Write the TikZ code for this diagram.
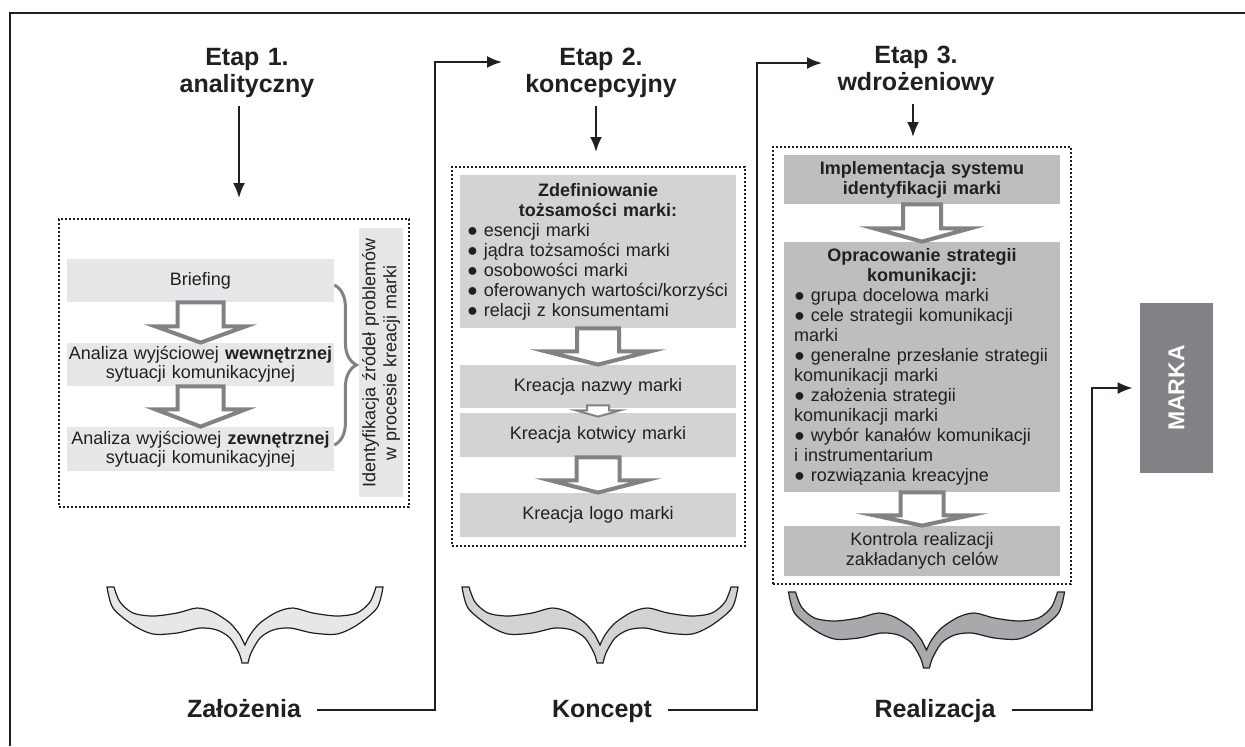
\documentclass[tikz,border=0pt]{standalone}
\usepackage{fontspec}
\setmainfont{Liberation Sans}
\usetikzlibrary{arrows.meta,calc,decorations.pathreplacing}

\definecolor{ink}{HTML}{231F20}
\definecolor{fillA}{HTML}{E6E7E8}
\definecolor{fillB}{HTML}{D1D3D4}
\definecolor{fillC}{HTML}{BCBEC0}
\definecolor{braceC}{HTML}{A7A9AC}
\definecolor{arrgray}{HTML}{808285}

\hyphenpenalty=10000
\exhyphenpenalty=10000

\tikzset{
  stagetitle/.style={font=\fontsize{12.5}{13.5}\selectfont\bfseries, align=center, text width=100pt, text=ink, inner sep=4pt},
  steplabel/.style={font=\fontsize{12.5}{15}\selectfont\bfseries, text=ink, anchor=base, inner sep=0pt},
  dashframe/.style={draw=ink, line width=0.6pt, dash pattern=on 1.2pt off 0.8pt, inner sep=0pt},
  cell/.style={inner sep=0pt, align=center, text=ink},
  boxA/.style={cell, fill=fillA, font=\fontsize{9}{9.3}\selectfont},
  boxB/.style={cell, fill=fillB, font=\fontsize{9}{10}\selectfont},
  boxC/.style={cell, fill=fillC, font=\fontsize{9}{10}\selectfont},
  hollow/.style={draw=arrgray, line width=2pt, fill=white},
  stagearr/.style={draw=ink, line width=1pt, -{Latex[length=7.5pt,width=6pt]}},
  loopline/.style={draw=ink, line width=1pt, shorten <=8pt, -{Latex[length=7.5pt,width=6pt]}},
  pics/wingbrace/.style={code={
    \draw[ink, line width=0.6pt, fill=#1]
      plot[smooth] coordinates {(-138,2) (-132,23) (-112,40) (-92,49) (-68,48) (-45,43) (-28,45) (-15,53) (-6,68) (-3,78)}
      -- plot[smooth] coordinates {(3,78) (6,68) (15,53) (28,45) (45,43) (68,48) (92,49) (112,40) (132,23) (138,2)}
      -- plot[smooth] coordinates {(131,2) (125,17) (112,28) (92,31) (68,28) (48,23) (32,27) (15,38) (5,50) (0,60)}
      -- plot[smooth] coordinates {(-5,50) (-15,38) (-32,27) (-48,23) (-68,28) (-92,31) (-112,28) (-125,17) (-131,2)}
      -- cycle;
  }}
}

% hollow block arrow: [style]{start}{tip}{shaft half}{head half}{shaft length}
\newcommand\hollowarrow[6][]{%
  \path #2 coordinate (ha-s) #3 coordinate (ha-t);
  \draw[hollow,#1] ($(ha-s)+(-#4,0)$) -- ++(0,#6) -- ++({#4-#5},0) -- (ha-s |- ha-t)
    -- ($(ha-s)+(#5,#6)$) -- ++({#4-#5},0) -- ($(ha-s)+(#4,0)$) -- cycle;}

\begin{document}
\begin{tikzpicture}[x=0.5pt, y=-0.5pt]
  \useasboundingbox (0,0) rectangle (1245,746);
  \draw[ink, line width=1pt] (10,746) |- (1245,13);

  % Etap 1
  \node[stagetitle] (t1) at (247,73) {Etap 1.\\analityczny};
  \node[dashframe, minimum width=175pt, minimum height=144pt] (f1) at (234,363) {};
  \node[boxA, text width=133.5pt, minimum height=21.5pt] (brief) at (200.5,280.5) {Briefing};
  \node[boxA, text width=133.5pt, minimum height=21.5pt] (wew) at (200.5,364.5) {Analiza wyjściowej \textbf{wewnętrznej}\\sytuacji komunikacyjnej};
  \node[boxA, text width=133.5pt, minimum height=22pt] (zew) at (200.5,449) {Analiza wyjściowej \textbf{zewnętrznej}\\sytuacji komunikacyjnej};
  \node[boxA, rotate=90, text width=134.5pt, minimum height=22pt, font=\fontsize{9}{10.5}\selectfont] (ident) at (381,362.5) {Identyfikacja źródeł problemów\\w procesie kreacji marki};
  \hollowarrow{(brief.south)}{(wew.north)}{23}{45}{24}
  \hollowarrow{(wew.south)}{(zew.north)}{23}{45}{23}
  \draw[arrgray, line width=1.5pt, decorate, decoration={brace, amplitude=11pt}]
    ([yshift=-2.25pt]brief.east) -- ([yshift=2pt]zew.east);
  \coordinate (a1) at (239,198);
  \draw[stagearr] (t1.south -| a1) -- (a1);

  % Etap 2
  \node[stagetitle] (t2) at (601,73) {Etap 2.\\koncepcyjny};
  \node[dashframe, minimum width=146.5pt, minimum height=189.5pt] (f2) at (598.5,356.5) {};
  \node[boxB, text width=131pt, inner xsep=3.5pt, minimum height=76.5pt, align=left] (zdef) at (598,251.5)
    {{\centering\bfseries Zdefiniowanie\\tożsamości marki:\par}
     ●~esencji marki\\
     ●~jądra tożsamości marki\\
     ●~osobowości marki\\
     ●~oferowanych~wartości/korzyści\\
     ●~relacji z konsumentami};
  \node[boxB, text width=138pt, minimum height=21.5pt] (nazwa) at (598,386.5) {Kreacja nazwy marki};
  \node[boxB, text width=138pt, minimum height=22pt] (kotw) at (598,435) {Kreacja kotwicy marki};
  \node[boxB, text width=138pt, minimum height=22pt] (logo) at (598,515) {Kreacja logo marki};
  \hollowarrow{(zdef.south)}{(nazwa.north)}{21}{52}{23}
  \hollowarrow[line width=1pt]{([yshift=1.5pt]nazwa.south)}{([yshift=-2pt]kotw.north)}{11}{22}{5}
  \hollowarrow{(kotw.south)}{(logo.north)}{21.5}{47.5}{23}
  \coordinate (a2) at (596,152);
  \draw[stagearr] (t2.south -| a2) -- (a2);

  % Etap 3
  \node[stagetitle] (t3) at (916,71) {Etap 3.\\wdrożeniowy};
  \node[dashframe, minimum width=149pt, minimum height=218.5pt] (f3) at (922,365.5) {};
  \node[boxC, text width=138pt, minimum height=24.5pt, font=\fontsize{9}{10}\selectfont\bfseries] (impl) at (922,179.5) {Implementacja systemu\\identyfikacji marki};
  \node[boxC, text width=128pt, inner xsep=5pt, minimum height=125pt, align=left] (oprac) at (922,367)
    {{\centering\bfseries Opracowanie strategii\\komunikacji:\par}
     ●~grupa docelowa marki\\
     ●~cele strategii komunikacji\\
     marki\\
     ●~generalne przesłanie~strategii\\
     komunikacji marki\\
     ●~założenia strategii\\
     komunikacji marki\\
     ●~wybór kanałów komunikacji\\
     i instrumentarium\\
     ●~rozwiązania kreacyjne};
  \node[boxC, text width=138pt, minimum height=25pt] (kontr) at (922,551) {Kontrola realizacji\\zakładanych celów};
  \hollowarrow{(impl.south)}{(oprac.north)}{19}{48}{24}
  \hollowarrow{(oprac.south)}{(kontr.north)}{21.5}{47.5}{23}
  \coordinate (a3) at (913,137);
  \draw[stagearr] (t3.south -| a3) -- (a3);

  % marka
  \node[fill=arrgray, text=white, font=\fontsize{11.5}{12}\selectfont\bfseries, rotate=90,
        minimum width=85pt, minimum height=36.5pt, inner sep=0pt] (marka) at (1176.5,388) {MARKA};

  % braces
  \pic at (245,585) {wingbrace=fillA};
  \pic at (600,585) {wingbrace=fillB};
  \pic at (926.5,590) {wingbrace=braceC};

  % bottom labels and loops
  \node[steplabel] (zal) at (244,717) {Założenia};
  \node[steplabel] (konc) at (602,717) {Koncept};
  \node[steplabel] (real) at (935,717) {Realizacja};
  \coordinate (c2) at (435,710);
  \coordinate (e2) at (502,62);
  \coordinate (c3) at (757,710);
  \coordinate (e3) at (822,63);
  \coordinate (c4) at (1092,710);
  \draw[loopline] (zal.east |- c2) -- (c2) |- (e2);
  \draw[loopline] (konc.east |- c3) -- (c3) |- (e3);
  \draw[loopline, shorten >=3.5pt] (real.east |- c4) -- (c4) |- (marka.north);
\end{tikzpicture}
\end{document}
